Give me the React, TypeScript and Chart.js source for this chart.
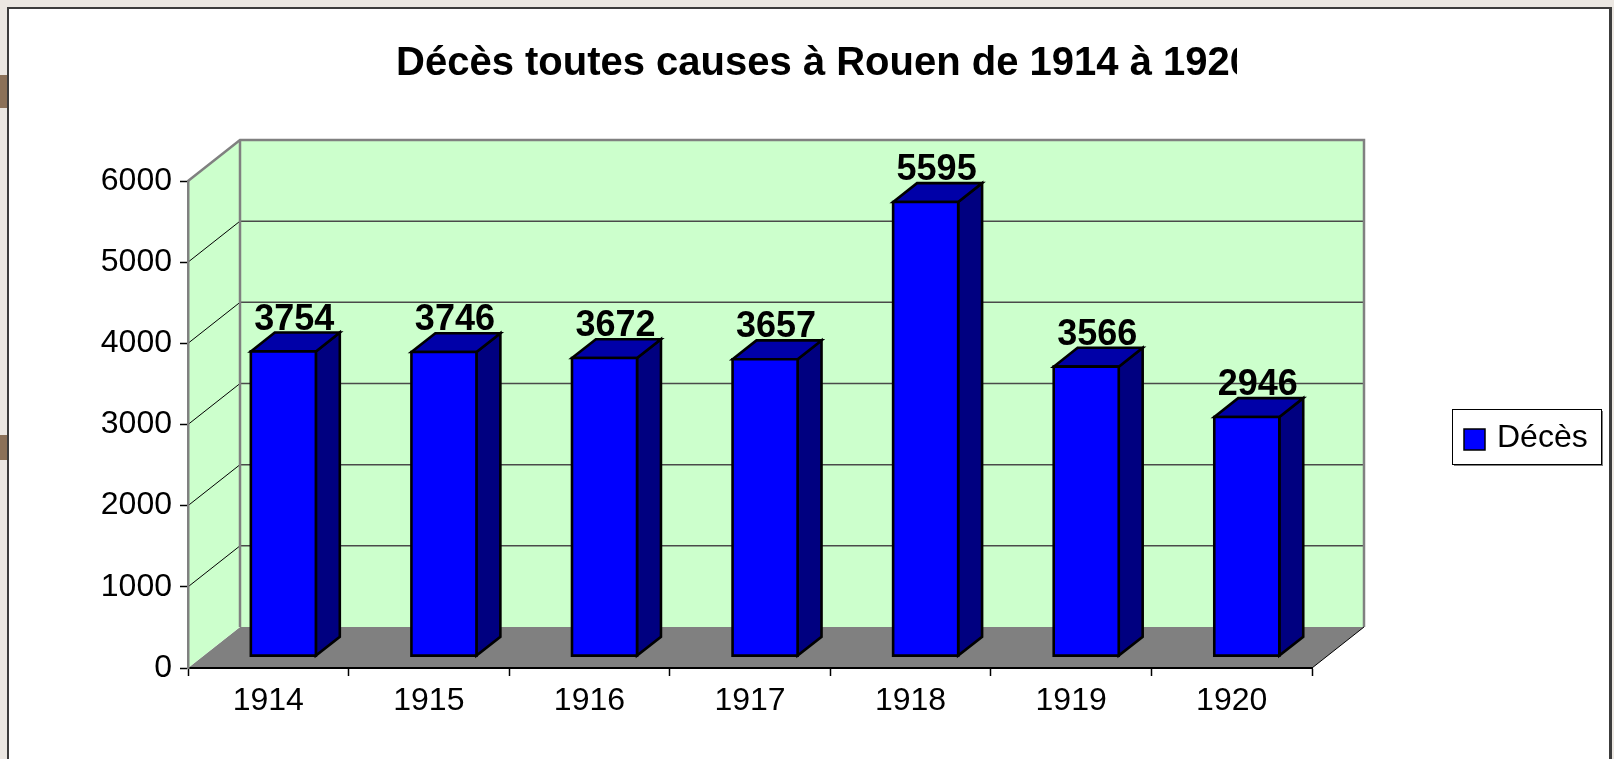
import React, { useEffect, useRef } from "react";
import { Chart, registerables } from "chart.js";

Chart.register(...registerables);

// ---- data ----
const TITLE = "Décès toutes causes à Rouen de 1914 à 1920";
const YEARS = ["1914", "1915", "1916", "1917", "1918", "1919", "1920"];
const DECES = [3754, 3746, 3672, 3657, 5595, 3566, 2946];
const Y_TICKS = [0, 1000, 2000, 3000, 4000, 5000, 6000];
const SERIES_LABEL = "Décès";

// ---- styles ----
const FONT = '"Liberation Sans", Arial, Helvetica, sans-serif';
const DEPTH_X = 52;
const DEPTH_Y = 41;
const BAR_FRONT = 0.29;
const BAR_BACK = 0.75;
const WALL = "#CCFFCC";
const FLOOR = "#808080";
const FRONT_BLUE = "#0000FF";
const SIDE_BLUE = "#000080";
const TOP_BLUE = "#0000A8";

const threeD = {
  id: "threeD",
  beforeDraw(chart: any) {
    const ctx = chart.ctx;
    const xs = chart.scales.x;
    const ys = chart.scales.y;
    const L = xs.left;
    const R = xs.right;
    const B = ys.getPixelForValue(Y_TICKS[0]);
    const T = ys.getPixelForValue(Y_TICKS[Y_TICKS.length - 1]);
    ctx.save();
    // floor
    ctx.fillStyle = FLOOR;
    ctx.beginPath();
    ctx.moveTo(L, B);
    ctx.lineTo(R, B);
    ctx.lineTo(R + DEPTH_X, B - DEPTH_Y);
    ctx.lineTo(L + DEPTH_X, B - DEPTH_Y);
    ctx.closePath();
    ctx.fill();
    // side wall
    ctx.fillStyle = WALL;
    ctx.beginPath();
    ctx.moveTo(L, T);
    ctx.lineTo(L + DEPTH_X, T - DEPTH_Y);
    ctx.lineTo(L + DEPTH_X, B - DEPTH_Y);
    ctx.lineTo(L, B);
    ctx.closePath();
    ctx.fill();
    // back wall
    ctx.fillRect(L + DEPTH_X, T - DEPTH_Y, R - L, B - T);
    // gridlines
    for (let i = 1; i < Y_TICKS.length - 1; i++) {
      const yv = ys.getPixelForValue(Y_TICKS[i]);
      ctx.strokeStyle = "#4a4a4a";
      ctx.lineWidth = 1.5;
      ctx.beginPath();
      ctx.moveTo(L + DEPTH_X, yv - DEPTH_Y);
      ctx.lineTo(R + DEPTH_X, yv - DEPTH_Y);
      ctx.stroke();
      ctx.strokeStyle = "#000000";
      ctx.lineWidth = 1;
      ctx.beginPath();
      ctx.moveTo(L, yv);
      ctx.lineTo(L + DEPTH_X, yv - DEPTH_Y);
      ctx.stroke();
    }
    // wall borders
    ctx.strokeStyle = "#808080";
    ctx.lineWidth = 2.5;
    ctx.beginPath();
    ctx.moveTo(L, T);
    ctx.lineTo(L + DEPTH_X, T - DEPTH_Y);
    ctx.lineTo(R + DEPTH_X, T - DEPTH_Y);
    ctx.lineTo(R + DEPTH_X, B - DEPTH_Y);
    ctx.stroke();
    ctx.beginPath();
    ctx.moveTo(L + DEPTH_X, T - DEPTH_Y);
    ctx.lineTo(L + DEPTH_X, B - DEPTH_Y);
    ctx.stroke();
    // floor right edge
    ctx.strokeStyle = "#000";
    ctx.lineWidth = 1;
    ctx.beginPath();
    ctx.moveTo(R, B);
    ctx.lineTo(R + DEPTH_X, B - DEPTH_Y);
    ctx.stroke();
    ctx.restore();
  },
  afterDatasetsDraw(chart: any) {
    const ctx = chart.ctx;
    const meta = chart.getDatasetMeta(0);
    const f0x = DEPTH_X * BAR_FRONT;
    const f0y = DEPTH_Y * BAR_FRONT;
    const f1x = DEPTH_X * BAR_BACK;
    const f1y = DEPTH_Y * BAR_BACK;
    ctx.save();
    ctx.lineWidth = 2.6;
    ctx.lineJoin = "miter";
    ctx.strokeStyle = "#000";
    meta.data.forEach((el: any) => {
      const xl = el.x - el.width / 2;
      const xr = el.x + el.width / 2;
      const top = el.y;
      const base = el.base;
      // side
      ctx.fillStyle = SIDE_BLUE;
      ctx.beginPath();
      ctx.moveTo(xr + f0x, top - f0y);
      ctx.lineTo(xr + f1x, top - f1y);
      ctx.lineTo(xr + f1x, base - f1y);
      ctx.lineTo(xr + f0x, base - f0y);
      ctx.closePath();
      ctx.fill();
      ctx.stroke();
      // top
      ctx.fillStyle = TOP_BLUE;
      ctx.beginPath();
      ctx.moveTo(xl + f0x, top - f0y);
      ctx.lineTo(xl + f1x, top - f1y);
      ctx.lineTo(xr + f1x, top - f1y);
      ctx.lineTo(xr + f0x, top - f0y);
      ctx.closePath();
      ctx.fill();
      ctx.stroke();
      // front
      ctx.fillStyle = FRONT_BLUE;
      ctx.beginPath();
      ctx.rect(xl + f0x, top - f0y, xr - xl, base - top);
      ctx.fill();
      ctx.stroke();
    });
    // value labels
    ctx.fillStyle = "#000";
    ctx.font = `bold 36px ${FONT}`;
    ctx.textAlign = "center";
    ctx.textBaseline = "alphabetic";
    meta.data.forEach((el: any, i: number) => {
      const cx = el.x + (f0x + f1x) / 2 - 1;
      const cy = el.y - f1y - 3;
      ctx.fillText(String(DECES[i]), cx, cy);
    });
    ctx.restore();
  },
  afterDraw(chart: any) {
    const ctx = chart.ctx;
    ctx.save();
    // title (clipped as in the original)
    ctx.beginPath();
    ctx.rect(0, 0, 1237, chart.height);
    ctx.clip();
    ctx.fillStyle = "#000";
    ctx.font = `bold 40px ${FONT}`;
    ctx.textAlign = "left";
    ctx.textBaseline = "alphabetic";
    ctx.fillText(TITLE, 396, 75);
    ctx.restore();

    // legend
    ctx.save();
    const lx = 1452, ly = 409, lw = 149, lh = 55;
    ctx.fillStyle = "#fff";
    ctx.fillRect(lx, ly, lw, lh);
    ctx.strokeStyle = "#808080";
    ctx.lineWidth = 2;
    ctx.beginPath();
    ctx.moveTo(lx + 2, ly + lh + 1);
    ctx.lineTo(lx + lw + 1, ly + lh + 1);
    ctx.lineTo(lx + lw + 1, ly + 2);
    ctx.stroke();
    ctx.strokeStyle = "#000";
    ctx.lineWidth = 1;
    ctx.strokeRect(lx + 0.5, ly + 0.5, lw, lh);
    ctx.fillStyle = FRONT_BLUE;
    ctx.fillRect(lx + 12, ly + 20, 21, 21);
    ctx.lineWidth = 1.5;
    ctx.strokeRect(lx + 12, ly + 20, 21, 21);
    ctx.fillStyle = "#000";
    ctx.font = `32px ${FONT}`;
    ctx.textAlign = "left";
    ctx.fillText(chart.data.datasets[0].label, lx + 45, ly + 38);
    ctx.restore();
  },
};

export default function App() {
  const ref = useRef<HTMLCanvasElement | null>(null);

  useEffect(() => {
    if (!ref.current) return;
    const chart = new Chart(ref.current, {
      type: "bar",
      data: {
        labels: YEARS,
        datasets: [
          {
            label: SERIES_LABEL,
            data: DECES,
            backgroundColor: "rgba(0,0,0,0)",
            borderWidth: 0,
            categoryPercentage: 1,
            barPercentage: 0.405,
          },
        ],
      },
      options: {
        responsive: false,
        animation: false,
        devicePixelRatio: 1,
        layout: { padding: { left: 0, top: 181, right: 302, bottom: 0 } },
        plugins: {
          legend: { display: false },
          title: { display: false },
          tooltip: { enabled: false },
        },
        scales: {
          x: {
            grid: {
              drawOnChartArea: false,
              drawTicks: true,
              tickLength: 8,
              tickColor: "#000",
              tickWidth: 1.5,
              offset: true,
            },
            border: { color: "#000", width: 2 },
            ticks: {
              font: { family: FONT, size: 32 },
              color: "#000",
              padding: 6,
              maxRotation: 0,
            },
            afterFit: (s: any) => {
              s.height = 91;
            },
          },
          y: {
            min: Y_TICKS[0],
            max: Y_TICKS[Y_TICKS.length - 1],
            grid: {
              drawOnChartArea: false,
              drawTicks: true,
              tickLength: 8,
              tickColor: "#000",
              tickWidth: 1.5,
            },
            border: { color: "#808080", width: 2.5 },
            ticks: {
              font: { family: FONT, size: 32 },
              color: "#000",
              padding: 8,
              callback: (v: any) => String(v),
            },
            afterBuildTicks: (s: any) => {
              s.ticks = Y_TICKS.map((v) => ({ value: v }));
            },
            afterFit: (s: any) => {
              s.width = 188;
            },
          },
        },
      },
      plugins: [threeD],
    });
    return () => chart.destroy();
  }, []);

  return (
    <div
      style={{
        position: "fixed",
        left: 0,
        top: 0,
        width: 1614,
        height: 759,
        background: "#EBE7E2",
        overflow: "hidden",
      }}
    >
      <div style={{ position: "absolute", left: 0, top: 75, width: 8, height: 33, background: "#8B7158" }} />
      <div style={{ position: "absolute", left: 0, top: 435, width: 8, height: 25, background: "#8B7158" }} />
      <div
        style={{
          position: "absolute",
          left: 7,
          top: 7,
          width: 1605,
          height: 800,
          boxSizing: "border-box",
          background: "#fff",
          borderLeft: "2px solid #3c3c3c",
          borderTop: "2px solid #3c3c3c",
          borderRight: "3px solid #3c3c3c",
        }}
      />
      <canvas
        ref={ref}
        width={1614}
        height={759}
        style={{ position: "absolute", left: 0, top: 0, width: 1614, height: 759 }}
      />
    </div>
  );
}
